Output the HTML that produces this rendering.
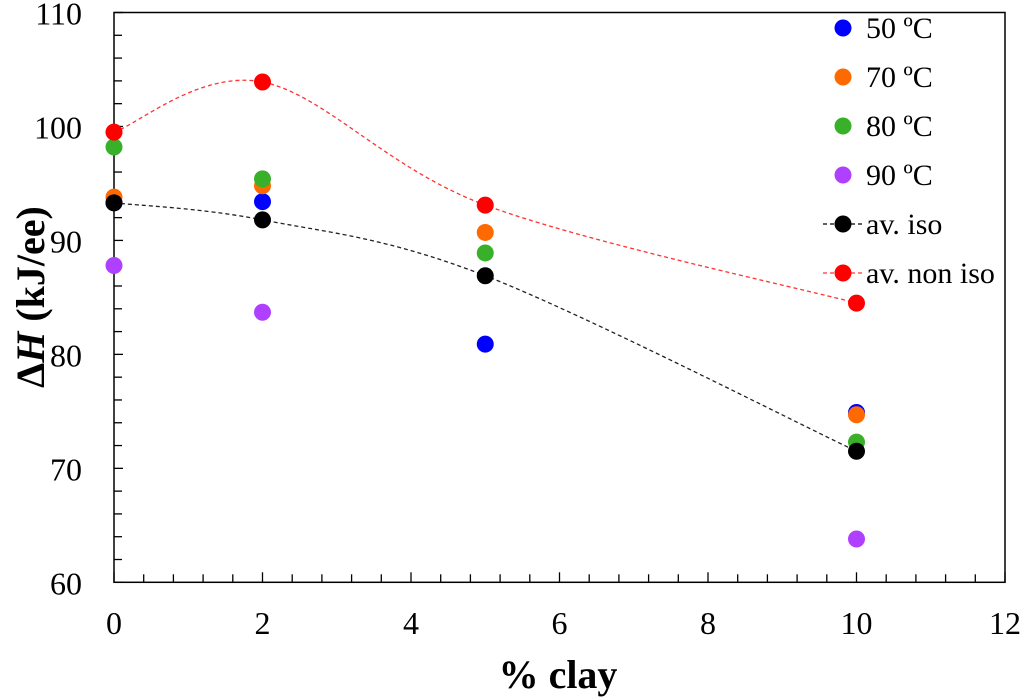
<!DOCTYPE html>
<html><head><meta charset="utf-8"><style>
body{margin:0;background:#fff}
svg{display:block;font-family:"Liberation Serif",serif}
</style></head><body>
<svg id="c" width="1024" height="698"></svg>
<script>
const xs=[0,2,5,10];
const s50=[93.3,93.4,80.9,74.9];
const s70=[93.8,94.8,90.7,74.7];
const s80=[98.2,95.4,88.9,72.3];
const s90=[87.8,83.7,null,63.8];
const avIso=[93.3,91.8,86.9,71.5];
const avNon=[99.5,103.9,93.1,84.5];
const xTicks=[0,2,4,6,8,10,12];
const yTicks=[60,70,80,90,100,110];
const L=114,R=1005,T=12.5,B=582.3;
const X=v=>L+(v-0)/(12-0)*(R-L);
const Y=v=>B-(v-60)/(110-60)*(B-T);
const svg=document.getElementById('c');
const NS='http://www.w3.org/2000/svg';
function mk(t,a,p){const e=document.createElementNS(NS,t);for(const k in a)e.setAttribute(k,a[k]);(p||svg).appendChild(e);return e;}
const frame=mk('rect',{x:L,y:T,width:R-L,height:B-T,fill:'none',stroke:'#000','stroke-width':1.5});


for(let v=60;v<=110.001;v+=2){const maj=Math.abs(v%10)<0.01;const t=mk('line',{x1:L,x2:L+(maj?9:8),y1:Y(v),y2:Y(v),stroke:'#000','stroke-width':1.3});

}
for(let v=0;v<=12.001;v+=0.4){const maj=Math.abs(v/2-Math.round(v/2))<0.01;const t=mk('line',{x1:X(v),x2:X(v),y1:B,y2:B-(maj?10:8),stroke:'#000','stroke-width':1.3});

}
yTicks.forEach(v=>{const t=mk('text',{x:82,y:Y(v)+12,'text-anchor':'end','font-size':32});t.textContent=v;

});
xTicks.forEach(v=>{const t=mk('text',{x:X(v),y:634,'text-anchor':'middle','font-size':32});t.textContent=v;

});
const xt=mk('text',{x:558,y:688,'text-anchor':'middle','font-size':40,'font-weight':'bold'});xt.textContent='% clay';


const yt=mk('text',{x:0,y:0,'text-anchor':'middle','font-size':40,'font-weight':'bold',transform:'translate(44,297) rotate(-90)'});
yt.innerHTML='ΔH (kJ/ee)'.replace('H','<tspan font-style="italic">H</tspan>');


function spline(vals,col,name){const p=xs.map((x,i)=>[X(x),Y(vals[i])]);let d='M'+p[0];
for(let i=0;i<p.length-1;i++){const p0=p[i-1]||p[i],p1=p[i],p2=p[i+1],p3=p[i+2]||p2;
const c1=[p1[0]+(p2[0]-p0[0])/6,p1[1]+(p2[1]-p0[1])/6],c2=[p2[0]-(p3[0]-p1[0])/6,p2[1]-(p3[1]-p1[1])/6];
d+=' C'+c1+' '+c2+' '+p2;}
const e=mk('path',{d:d,fill:'none',stroke:col,'stroke-width':1.3,'stroke-dasharray':'4,3'});

}
spline(avIso,'#222','av-iso-curve');
spline(avNon,'#f33','av-non-iso-curve');
function pts(vals,col,name){xs.forEach((x,i)=>{if(vals[i]==null)return;const c=mk('circle',{cx:X(x),cy:Y(vals[i]),r:8.5,fill:col});

});}
pts(s50,'#0000ff','point-50c');
pts(s70,'#ff6a00','point-70c');
pts(s80,'#38b02a','point-80c');
pts(s90,'#b040ff','point-90c');
pts(avIso,'#000','point-av-iso');
pts(avNon,'#ff0000','point-av-non-iso');
const leg=[['50 ºC','#0000ff',0],['70 ºC','#ff6a00',0],['80 ºC','#38b02a',0],['90 ºC','#b040ff',0],['av. iso','#000','#000'],['av. non iso','#ff0000','#f33']];
leg.forEach((l,i)=>{const y=28+i*49;
if(l[2]){const ln=mk('line',{x1:823,x2:862,y1:y,y2:y,stroke:l[2],'stroke-width':1.3,'stroke-dasharray':'4,3'});

}
const c=mk('circle',{cx:843,cy:y,r:8.5,fill:l[1]});


const t=mk('text',{x:866,y:y+10,'font-size':30});t.textContent=l[0];

});
</script>
</body></html>
